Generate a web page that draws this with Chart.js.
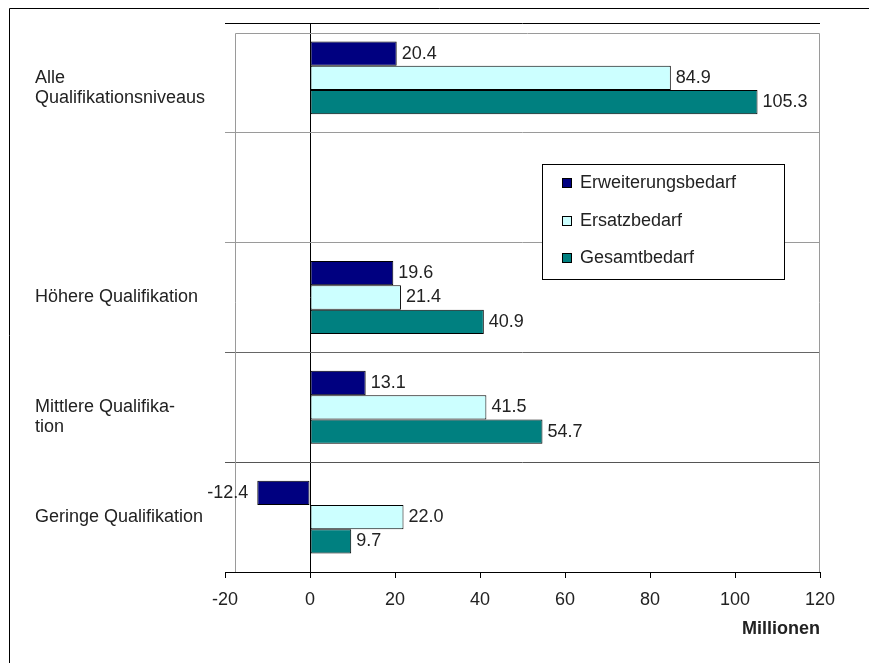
<!DOCTYPE html>
<html lang="de">
<head>
<meta charset="utf-8">
<title>Qualifikationsbedarf</title>
<script src="https://cdn.jsdelivr.net/npm/chart.js@4.4.1/dist/chart.umd.min.js"></script>
<style>
  html, body { margin: 0; padding: 0; background: #fff; }
  canvas { display: block; }
</style>
</head>
<body>
<canvas id="bedarf" width="869" height="663"></canvas>
<script>
// categories (second one is an empty spacer row, as in the original)
const categories = [
  ['Alle', 'Qualifikationsniveaus'],
  '',
  'Höhere Qualifikation',
  ['Mittlere Qualifika-', 'tion'],
  'Geringe Qualifikation'
];
const seriesNames = ['Erweiterungsbedarf', 'Ersatzbedarf', 'Gesamtbedarf'];
const erweiterung = [20.4, null, 19.6, 13.1, -12.4];
const ersatz = [84.9, null, 21.4, 41.5, 22.0];
const gesamt = [105.3, null, 40.9, 54.7, 9.7];
const xTicks = [-20, 0, 20, 40, 60, 80, 100, 120];

const FONT = '"Liberation Sans", Arial, sans-serif';
const colors = ['#000080', '#ccffff', '#008080'];
// separator colours, top to bottom
const sepColors = ['#000', '#9a9a9a', '#9a9a9a', '#666', '#555', '#000'];

const valueLabels = {
  id: 'valueLabels',
  afterDatasetsDraw(chart) {
    const ctx = chart.ctx;
    ctx.save();
    ctx.font = '18px ' + FONT;
    ctx.fillStyle = '#222';
    ctx.textBaseline = 'middle';
    chart.data.datasets.forEach((ds, i) => {
      chart.getDatasetMeta(i).data.forEach((bar, j) => {
        const v = ds.data[j];
        if (v == null) return;
        if (v < 0) {
          ctx.textAlign = 'right';
          ctx.fillText(v.toFixed(1), bar.x - 9, bar.y);
        } else {
          ctx.textAlign = 'left';
          ctx.fillText(v.toFixed(1), bar.x + 5, bar.y);
        }
      });
    });
    ctx.restore();
  }
};

// outer page frame + grey plot frame
const frames = {
  id: 'frames',
  beforeDatasetsDraw(chart) {
    const ctx = chart.ctx;
    const a = chart.chartArea;
    ctx.save();
    ctx.lineWidth = 1;
    ctx.strokeStyle = '#000';
    ctx.beginPath();
    ctx.moveTo(9.5, chart.height);
    ctx.lineTo(9.5, 8.5);
    ctx.lineTo(chart.width, 8.5);
    ctx.stroke();
    ctx.strokeStyle = '#9a9a9a';
    ctx.beginPath();
    ctx.moveTo(a.left + 10.5, a.bottom);
    ctx.lineTo(a.left + 10.5, a.top + 10.5);
    ctx.lineTo(a.right - 0.5, a.top + 10.5);
    ctx.lineTo(a.right - 0.5, a.bottom);
    ctx.stroke();
    ctx.restore();
  }
};

const boxLegend = {
  id: 'boxLegend',
  afterDraw(chart) {
    const ctx = chart.ctx;
    ctx.save();
    ctx.fillStyle = '#fff';
    ctx.fillRect(542, 164, 242, 115);
    ctx.strokeStyle = '#000';
    ctx.lineWidth = 1;
    ctx.strokeRect(542.5, 164.5, 242, 115);
    ctx.font = '18px ' + FONT;
    ctx.textBaseline = 'middle';
    ctx.textAlign = 'left';
    chart.data.datasets.forEach((ds, i) => {
      const y = Math.round(183 + i * 37.5);
      ctx.fillStyle = ds.backgroundColor;
      ctx.fillRect(562, y - 4, 10, 9);
      ctx.strokeRect(562.5, y - 4.5, 9, 9);
      ctx.fillStyle = '#222';
      ctx.fillText(ds.label, 580, y);
    });
    ctx.restore();
  }
};

const series = [erweiterung, ersatz, gesamt];

new Chart(document.getElementById('bedarf'), {
  type: 'bar',
  data: {
    labels: categories,
    datasets: series.map((d, i) => ({
      label: seriesNames[i],
      data: d,
      backgroundColor: colors[i],
      borderColor: '#000',
      borderWidth: 1,
      borderSkipped: false,
      categoryPercentage: 0.664,
      barPercentage: 1.0
    }))
  },
  options: {
    indexAxis: 'y',
    responsive: false,
    animation: false,
    events: [],
    layout: { padding: { left: 35, right: 49, top: 23, bottom: 21 } },
    plugins: {
      legend: { display: false },
      tooltip: { enabled: false }
    },
    scales: {
      x: {
        min: -20,
        max: 120,
        afterBuildTicks: s => { s.ticks = xTicks.map(v => ({ value: v })); },
        afterFit: s => { s.height = 70; },
        border: { color: '#000', width: 1 },
        grid: {
          drawOnChartArea: true,
          color: c => (c.tick && c.tick.value === 0) ? '#000' : 'rgba(0,0,0,0)',
          tickColor: '#000',
          tickLength: 6
        },
        ticks: {
          padding: 11,
          color: '#222',
          font: { family: FONT, size: 18 },
          maxRotation: 0
        },
        title: {
          display: true,
          text: 'Millionen',
          align: 'end',
          color: '#222',
          font: { family: FONT, size: 18, weight: 'bold' },
          padding: { top: 4, bottom: 2 }
        }
      },
      y: {
        afterFit: s => { s.width = 190; },
        border: { display: false },
        grid: {
          offset: true,
          drawTicks: false,
          color: c => sepColors[c.index] || '#999'
        },
        ticks: {
          autoSkip: false,
          crossAlign: 'far',
          color: '#222',
          font: { family: FONT, size: 18, lineHeight: 1.1 },
          // keep the first line level with the bars' centre
          callback: function (v, i) {
            const l = categories[i];
            return Array.isArray(l) ? [''].concat(l) : l;
          }
        }
      }
    }
  },
  plugins: [frames, valueLabels, boxLegend]
});
</script>
</body>
</html>
